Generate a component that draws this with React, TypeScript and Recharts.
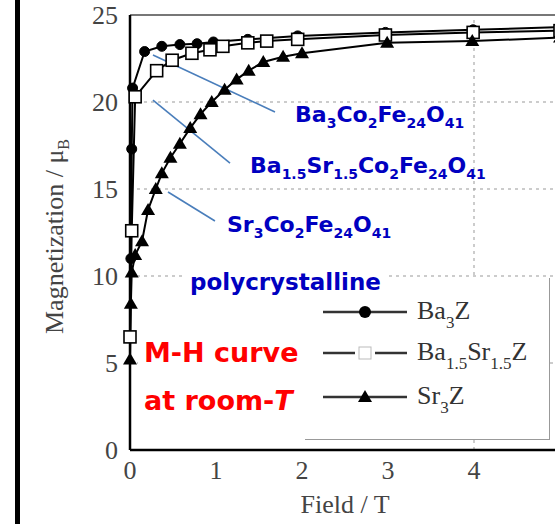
import React from 'react'
import { LineChart, Line, XAxis, YAxis, CartesianGrid, ReferenceLine, Legend } from 'recharts'

// field (T) / magnetization (μB) for each sample
const ba3Field = [0.01, 0.02, 0.03, 0.17, 0.37, 0.58, 0.78, 0.97, 1.37, 1.95, 2.97, 3.99, 5.0]
const ba3Moment = [11.0, 17.3, 20.8, 22.9, 23.2, 23.3, 23.35, 23.45, 23.6, 23.8, 24.0, 24.15, 24.3]

const baSrField = [0.0, 0.02, 0.06, 0.31, 0.49, 0.72, 0.93, 1.08, 1.37, 1.59, 1.95, 2.97, 3.99, 5.0]
const baSrMoment = [6.5, 12.6, 20.3, 21.8, 22.4, 22.8, 23.0, 23.2, 23.4, 23.5, 23.6, 23.85, 24.0, 24.1]

const sr3Field = [0.0, 0.01, 0.02, 0.06, 0.14, 0.21, 0.3, 0.37, 0.47, 0.58, 0.7, 0.82, 0.95, 1.1, 1.24, 1.38, 1.55, 1.78, 2.0, 2.99, 3.98, 5.0]
const sr3Moment = [5.2, 8.4, 10.2, 11.2, 12.0, 13.8, 15.0, 15.9, 16.8, 17.6, 18.5, 19.3, 20.0, 20.7, 21.3, 21.8, 22.3, 22.6, 22.8, 23.4, 23.5, 23.7]

const xTicks = [0, 1, 2, 3, 4]
const yTicks = [0, 5, 10, 15, 20, 25]

// legend names as [text, subscript] pairs
const legendNames: [string, string][][] = [
  [['Ba', '3'], ['Z', '']],
  [['Ba', '1.5'], ['Sr', '1.5'], ['Z', '']],
  [['Sr', '3'], ['Z', '']],
]

// callouts: formula pieces + the two ends of each pointer line (field, moment)
const formulaBa3: [string, string][] = [['Ba', '3'], ['Co', '2'], ['Fe', '24'], ['O', '41']]
const formulaBaSr: [string, string][] = [['Ba', '1.5'], ['Sr', '1.5'], ['Co', '2'], ['Fe', '24'], ['O', '41']]
const formulaSr3: [string, string][] = [['Sr', '3'], ['Co', '2'], ['Fe', '24'], ['O', '41']]
const pointerBa3 = [{ x: 0.267, y: 22.7 }, { x: 1.686, y: 19.43 }]
const pointerBaSr = [{ x: 0.267, y: 20.11 }, { x: 1.163, y: 16.49 }]
const pointerSr3 = [{ x: 0.442, y: 14.83 }, { x: 0.988, y: 13.16 }]

const toPoints = (xs: number[], ys: number[]) => xs.map((x, i) => ({ x, y: ys[i] }))

const SERIF = '"Liberation Serif", "Times New Roman", serif'
const SANS = '"DejaVu Sans", sans-serif'
const BLUE = '#0000C0'
const POINTER = '#4A7EBB'

const SquareDot = (p: any) => (
  <rect key={`sq-${p.index}`} x={p.cx - 6} y={p.cy - 6} width={12} height={12} fill="#fff" stroke="#000" strokeWidth={1.6} />
)

const TriangleDot = (p: any) => (
  <polygon key={`tr-${p.index}`} points={`${p.cx},${p.cy - 7} ${p.cx + 7},${p.cy + 5} ${p.cx - 7},${p.cy + 5}`} fill="#000" />
)

const XLabel = (props: any) => {
  const vb = props.viewBox || { x: 130, y: 450, width: 430 }
  return (
    <text x={vb.x + vb.width / 2} y={vb.y + 63} textAnchor="middle" fontFamily={SERIF} fontSize={26} fill="#444">
      Field / T
    </text>
  )
}

const YLabel = (props: any) => {
  const vb = props.viewBox || { x: 60, y: 15, height: 435 }
  const cx = vb.x + 3
  const cy = vb.y + vb.height / 2 + 4
  return (
    <text transform={`translate(${cx},${cy}) rotate(-90)`} textAnchor="middle" fontFamily={SERIF} fontSize={26} fill="#444">
      Magnetization / μ<tspan fontSize={16} dy={6}>B</tspan>
    </text>
  )
}

// text with subscripts, as svg tspans
const chem = (parts: [string, string][], sub: number, shift: number) => {
  const out: React.ReactNode[] = []
  let down = false
  parts.forEach(([main, s], i) => {
    out.push(<tspan key={`m${i}`} dy={down ? -shift : 0}>{main}</tspan>)
    down = false
    if (s) {
      out.push(<tspan key={`s${i}`} fontSize={sub} dy={shift}>{s}</tspan>)
      down = true
    }
  })
  return out
}

const LegendBox = () => (
  <div
    style={{
      width: 245,
      height: 162,
      background: '#fff',
      borderRight: '1.5px solid #999',
      borderBottom: '1.5px solid #999',
      boxSizing: 'border-box',
      position: 'relative',
    }}
  >
    {legendNames.map((name, i) => {
      const cy = [34, 75, 119][i]
      return (
        <div key={i} style={{ position: 'absolute', left: 0, top: cy - 20, height: 40, width: 245 }}>
          <svg width={110} height={40} style={{ position: 'absolute', left: 0, top: 0 }}>
            {i === 1 ? (
              <>
                <line x1={18} y1={20} x2={50} y2={20} stroke="#333" strokeWidth={2.5} />
                <line x1={70} y1={20} x2={102} y2={20} stroke="#333" strokeWidth={2.5} />
                <rect x={54} y={14} width={12} height={12} fill="#fff" stroke="#bbb" strokeWidth={1} />
              </>
            ) : (
              <line x1={18} y1={20} x2={102} y2={20} stroke="#333" strokeWidth={2.5} />
            )}
            {i === 0 && <circle cx={60} cy={20} r={6} fill="#000" />}
            {i === 2 && <polygon points="60,13 67,25 53,25" fill="#000" />}
          </svg>
          <div
            style={{
              position: 'absolute',
              left: 112,
              top: 4,
              fontFamily: SERIF,
              fontSize: 26,
              color: '#333',
              lineHeight: '30px',
              whiteSpace: 'nowrap',
            }}
          >
            {name.map(([m, s], j) => (
              <React.Fragment key={j}>
                {m}
                {s && <span style={{ fontSize: 17, position: 'relative', top: 9 }}>{s}</span>}
              </React.Fragment>
            ))}
          </div>
        </div>
      )
    })}
  </div>
)

export default function App() {
  return (
    <div style={{ position: 'fixed', left: 0, top: 0, width: 555, height: 524, overflow: 'hidden', background: '#fff' }}>
      <div style={{ position: 'absolute', left: 15, top: 0, width: 5, height: 524, background: '#000' }} />
      <LineChart width={580} height={524} margin={{ top: 15, right: 20, bottom: 34, left: 60 }}>
        <CartesianGrid vertical={false} stroke="#999" strokeDasharray="3 4" />
        <ReferenceLine x={4} stroke="#999" strokeDasharray="3 4" />
        <ReferenceLine y={25} stroke="#777" strokeWidth={2} />
        <XAxis
          type="number"
          dataKey="x"
          domain={[0, 5]}
          ticks={xTicks}
          tickSize={0}
          tickMargin={11}
          height={40}
          axisLine={{ stroke: '#000', strokeWidth: 2.5 }}
          tick={{ fontFamily: SERIF, fontSize: 26, fill: '#444' }}
          label={<XLabel />}
        />
        <YAxis
          type="number"
          domain={[0, 25]}
          ticks={yTicks}
          tickSize={0}
          tickMargin={12}
          width={70}
          axisLine={{ stroke: '#000', strokeWidth: 2.5 }}
          tick={{ fontFamily: SERIF, fontSize: 26, fill: '#444' }}
          label={<YLabel />}
        />
        <Line
          data={toPoints(ba3Field, ba3Moment)}
          dataKey="y"
          name="Ba3Z"
          type="linear"
          stroke="#000"
          strokeWidth={2}
          dot={{ r: 5, fill: '#000', stroke: '#000', strokeWidth: 1 }}
          isAnimationActive={false}
        />
        <Line
          data={toPoints(baSrField, baSrMoment)}
          dataKey="y"
          name="Ba1.5Sr1.5Z"
          type="linear"
          stroke="#000"
          strokeWidth={2}
          dot={SquareDot}
          isAnimationActive={false}
        />
        <Line
          data={toPoints(sr3Field, sr3Moment)}
          dataKey="y"
          name="Sr3Z"
          type="linear"
          stroke="#000"
          strokeWidth={2}
          dot={TriangleDot}
          isAnimationActive={false}
        />
        <ReferenceLine segment={pointerBa3} stroke={POINTER} strokeWidth={1.6} ifOverflow="visible" />
        <ReferenceLine segment={pointerBaSr} stroke={POINTER} strokeWidth={1.6} ifOverflow="visible" />
        <ReferenceLine segment={pointerSr3} stroke={POINTER} strokeWidth={1.6} ifOverflow="visible" />
        <Legend
          layout="vertical"
          align="center"
          verticalAlign="middle"
          content={() => <LegendBox />}
          wrapperStyle={{ left: 305, top: 278, width: 245, height: 162 }}
        />
      </LineChart>

      {/* callout text on top of the plot */}
      <svg width={555} height={524} style={{ position: 'absolute', left: 0, top: 0, pointerEvents: 'none' }}>
        <g fontFamily={SANS} fontWeight="bold" fill={BLUE} fontSize={22}>
          <text x={295} y={122}>{chem(formulaBa3, 14, 6)}</text>
          <text x={250} y={173}>{chem(formulaBaSr, 14, 6)}</text>
          <text x={227} y={232}>{chem(formulaSr3, 14, 6)}</text>
        </g>
        <rect x={186} y={263} width={200} height={33} fill="#fff" />
        <text x={190} y={290} fontFamily={SANS} fontWeight="bold" fill={BLUE} fontSize={23}>
          polycrystalline
        </text>
        <rect x={138} y={333} width={174} height={92} fill="#fff" />
        <g fontFamily={SANS} fontWeight="bold" fill="#FF0000" fontSize={27}>
          <text x={144} y={362}>M-H curve</text>
          <text x={144} y={410}>
            at room-<tspan fontStyle="italic">T</tspan>
          </text>
        </g>
      </svg>
    </div>
  )
}
